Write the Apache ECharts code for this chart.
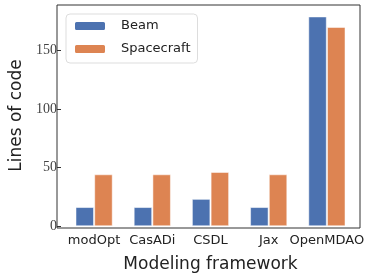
<!DOCTYPE html>
<html><head><meta charset="utf-8">
<script src="https://cdn.jsdelivr.net/npm/echarts@6/dist/echarts.min.js"></script>
<style>html,body{margin:0;padding:0;background:#fff}#c{width:373px;height:278px}</style>
</head><body><div id="c"></div>
<script>
const categories = ['modOpt', 'CasADi', 'CSDL', 'Jax', 'OpenMDAO'];
const beam = [16, 16, 23, 16, 179];
const spacecraft = [44, 44, 46, 44, 170];
const yTicks = [0, 50, 100, 150];

const chart = echarts.init(document.getElementById('c'));
const sans = 'DejaVu Sans';
const serif = 'Liberation Serif';
chart.setOption({
  animation: false,
  grid: [
    {left: 57, top: 5, width: 303, height: 223, show: true, borderColor: '#333', borderWidth: 1, backgroundColor: 'transparent'},
    {left: 61, top: 5, width: 295, height: 223}
  ],
  legend: {
    data: ['Beam', 'Spacecraft'],
    orient: 'vertical', left: 66, top: 14,
    itemWidth: 32, itemHeight: 10, itemGap: 7,
    padding: [4, 7, 6, 7],
    borderColor: '#ddd', borderWidth: 1, borderRadius: 4,
    textStyle: {fontFamily: sans, fontSize: 13, lineHeight: 16, color: '#222', padding: [0, 0, 0, 10]}
  },
  xAxis: [
    {gridIndex: 0, type: 'value', show: false, min: 0, max: 1},
    {gridIndex: 1, type: 'category', data: categories,
      axisLine: {show: false},
      axisTick: {alignWithLabel: true, length: 4, lineStyle: {color: '#333'}},
      axisLabel: {fontFamily: sans, fontSize: 13, color: '#222', margin: 8, interval: 0},
      name: 'Modeling framework', nameLocation: 'middle', nameGap: 30,
      nameTextStyle: {fontFamily: sans, fontSize: 17, color: '#222'}
    }
  ],
  yAxis: [
    {gridIndex: 0, type: 'value', show: false, min: 0, max: 1},
    {gridIndex: 1, type: 'value', min: 0, max: 189, offset: 4,
      axisLine: {show: false}, splitLine: {show: false},
      axisTick: {show: true, length: 4, lineStyle: {color: '#333'}, customValues: yTicks},
      axisLabel: {fontFamily: serif, fontSize: 14, color: '#444', margin: 4, customValues: yTicks},
      name: 'Lines of code', nameLocation: 'middle', nameGap: 36,
      nameTextStyle: {fontFamily: sans, fontSize: 17, color: '#222'}
    }
  ],
  series: [
    {name: 'Beam', type: 'bar', xAxisIndex: 1, yAxisIndex: 1, data: beam, barWidth: 18, barGap: '4%',
      itemStyle: {color: '#4C72B0', borderColor: '#fff', borderWidth: 0.5}},
    {name: 'Spacecraft', type: 'bar', xAxisIndex: 1, yAxisIndex: 1, data: spacecraft, barWidth: 18, barGap: '4%',
      itemStyle: {color: '#DD8452', borderColor: '#fff', borderWidth: 0.5}}
  ]
});
</script></body></html>
